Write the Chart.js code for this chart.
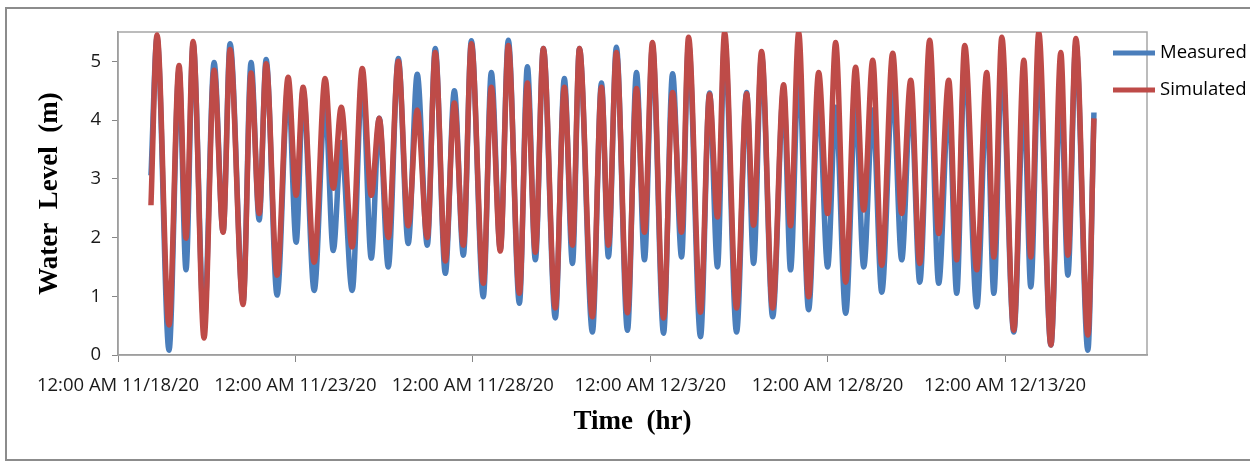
<!DOCTYPE html>
<html>
<head>
<meta charset="utf-8">
<script src="https://cdn.jsdelivr.net/npm/chart.js@4.4.1/dist/chart.umd.min.js"></script>
<style>
  body { margin: 0; background: #fff; overflow: hidden; }
  #frame { position: absolute; left: 5px; top: 7px; width: 1300px; height: 450px; border: 2px solid #8c8c8c; }
  #wrap { position: absolute; left: 0; top: 0; width: 1250px; height: 461px; }
</style>
</head>
<body>
<div id="frame"></div>
<div id="wrap"><canvas id="tideChart" width="1250" height="461"></canvas></div>
<script>
// hours after 12:00 AM 11/18/20 of each high / low water
const tideHours = [22.3, 26.4, 34.5, 41.3, 46.0, 50.8, 58.2, 65.0, 71.1, 75.8, 84.6, 90.0, 95.5, 100.2,
  107.6, 115.1, 120.5, 125.2, 132.7, 140.1, 145.6, 151.0, 158.4, 165.2, 171.3, 176.7, 182.8, 189.6,
  196.3, 202.4, 209.2, 214.6, 221.4, 227.5, 233.6, 239.0, 247.1, 252.5, 258.6, 264.0, 271.5, 276.9,
  282.3, 287.7, 295.8, 301.9, 307.4, 312.1, 320.9, 327.0, 331.7, 337.1, 344.6, 350.7, 356.1, 361.5,
  369.0, 375.1, 381.2, 385.9, 394.0, 400.1, 405.5, 410.3, 418.4, 425.2, 429.9, 435.3, 442.8, 450.2,
  454.9, 460.4, 467.1, 473.9, 480.0, 485.4, 492.2, 498.9, 504.4, 510.5, 516.6, 524.0, 530.1, 536.2,
  542.3, 549.0, 555.1, 561.9, 567.3, 572.7, 580.9, 587.6, 592.4, 597.8, 605.9, 612.7, 617.4, 622.8,
  631.0, 637.7, 642.5, 647.9, 656.0, 660.1];

const measured = [3.06, 5.4, 0.08, 4.85, 1.45, 5.3, 0.51, 4.98, 2.1, 5.3, 0.9, 4.98, 2.3, 5.03,
  1.02, 4.6, 1.92, 4.5, 1.1, 4.3, 1.78, 3.62, 1.1, 4.75, 1.65, 4.03, 1.5, 5.05,
  1.9, 4.78, 1.87, 5.22, 1.39, 4.5, 1.7, 5.35, 0.99, 4.81, 1.8, 5.36, 0.88, 4.91,
  1.62, 5.22, 0.63, 4.71, 1.56, 5.22, 0.39, 4.63, 1.67, 5.24, 0.42, 4.81, 1.62, 5.25,
  0.37, 4.79, 1.67, 5.3, 0.31, 4.46, 1.5, 5.35, 0.39, 4.47, 1.56, 5.1, 0.65, 4.5,
  1.45, 4.9, 0.77, 4.39, 1.5, 4.22, 0.71, 4.25, 1.5, 4.17, 1.07, 4.56, 1.62, 4.4,
  1.24, 4.9, 1.22, 4.34, 1.05, 5.02, 0.82, 4.39, 1.05, 4.98, 0.39, 4.39, 1.16, 5.02,
  0.17, 4.56, 1.36, 5.3, 0.08, 4.13];

const simulated = [2.55, 5.45, 0.51, 4.93, 1.99, 5.34, 0.29, 4.85, 2.09, 5.2, 0.86, 4.8, 2.41, 4.96,
  1.36, 4.73, 2.72, 4.56, 1.58, 4.71, 2.84, 4.22, 1.84, 4.88, 2.72, 4.03, 2.0, 5.0,
  2.2, 4.17, 2.0, 5.15, 1.6, 4.29, 1.87, 5.3, 1.22, 4.56, 1.77, 5.27, 1.05, 4.63,
  1.75, 5.22, 0.8, 4.56, 1.87, 5.22, 0.65, 4.56, 1.87, 5.15, 0.72, 4.54, 2.09, 5.32,
  0.63, 4.47, 2.09, 5.41, 0.73, 4.44, 2.35, 5.49, 0.8, 4.45, 2.21, 5.17, 0.8, 4.6,
  2.2, 5.49, 0.99, 4.81, 2.41, 5.32, 1.24, 4.9, 2.47, 5.02, 1.53, 5.14, 2.41, 4.68,
  1.56, 5.36, 2.07, 4.68, 1.62, 5.27, 1.45, 4.81, 1.67, 5.41, 0.42, 5.02, 1.67, 5.49,
  0.17, 5.15, 1.7, 5.39, 0.34, 4.03];

const xTickLabels = ['12:00 AM 11/18/20', '12:00 AM 11/23/20', '12:00 AM 11/28/20',
  '12:00 AM 12/3/20', '12:00 AM 12/8/20', '12:00 AM 12/13/20'];

const toPoints = levels => tideHours.map((h, i) => ({ x: h, y: levels[i] }));

Chart.defaults.font.family = '"Open Sans", sans-serif';
Chart.defaults.color = '#1a1a1a';

// grey box round the plot area
const plotFrame = {
  id: 'plotFrame',
  beforeDatasetsDraw(chart) {
    const { ctx, chartArea: a } = chart;
    ctx.save();
    ctx.strokeStyle = '#a6a6a6';
    ctx.lineWidth = 1.5;
    ctx.strokeRect(a.left, a.top, a.right - a.left, a.bottom - a.top);
    ctx.restore();
  }
};

// excel style legend, sits over the right edge of the plot
const sideLegend = {
  id: 'sideLegend',
  afterDraw(chart) {
    const { ctx, chartArea: a } = chart;
    ctx.save();
    ctx.font = '18.5px "Open Sans"';
    ctx.textBaseline = 'middle';
    chart.data.datasets.forEach((ds, i) => {
      const y = a.top + 21 + i * 37;
      ctx.strokeStyle = ds.borderColor;
      ctx.lineWidth = 5;
      ctx.beginPath();
      ctx.moveTo(a.right - 34, y);
      ctx.lineTo(a.right + 8, y);
      ctx.stroke();
      ctx.fillStyle = '#000';
      ctx.fillText(ds.label, a.right + 13, y);
    });
    ctx.restore();
  }
};

new Chart(document.getElementById('tideChart'), {
  type: 'line',
  data: {
    datasets: [
      { label: 'Measured', data: toPoints(measured), borderColor: '#4a7ebb', order: 1 },
      { label: 'Simulated', data: toPoints(simulated), borderColor: '#be4b48', order: 0 }
    ]
  },
  options: {
    responsive: false,
    animation: false,
    layout: { padding: { top: 32, right: 103, left: 0, bottom: 0 } },
    elements: {
      point: { radius: 0 },
      line: { borderWidth: 5.5, cubicInterpolationMode: 'monotone', fill: false }
    },
    plugins: { legend: { display: false }, tooltip: { enabled: false } },
    scales: {
      x: {
        type: 'linear',
        min: 0,
        max: 696,
        afterFit: s => { s.height = 106; },
        afterBuildTicks: s => { s.ticks = s.ticks.filter(t => t.value % 120 === 0); },
        grid: { drawOnChartArea: false, tickLength: 7, color: '#868686' },
        border: { color: '#868686', width: 1.5 },
        ticks: {
          stepSize: 120,
          autoSkip: false,
          maxRotation: 0,
          padding: 13,
          font: { size: 18.5 },
          callback: v => xTickLabels[v / 120]
        },
        title: {
          display: true,
          text: 'Time  (hr)',
          color: '#000',
          font: { family: '"Liberation Serif", serif', size: 27, weight: 'bold' },
          padding: { top: 0, bottom: 23 }
        }
      },
      y: {
        min: 0,
        max: 5.5,
        afterFit: s => { s.width = 118; },
        afterBuildTicks: s => { s.ticks = s.ticks.filter(t => Number.isInteger(t.value)); },
        grid: { drawOnChartArea: false, tickLength: 6, color: '#868686' },
        border: { color: '#868686', width: 1.5 },
        ticks: { stepSize: 1, padding: 11, font: { size: 18.5 } },
        title: {
          display: true,
          text: 'Water  Level  (m)',
          color: '#000',
          font: { family: '"Liberation Serif", serif', size: 27, weight: 'bold' },
          padding: { top: 34, bottom: 0 }
        }
      }
    }
  },
  plugins: [plotFrame, sideLegend]
});
</script>
</body>
</html>
